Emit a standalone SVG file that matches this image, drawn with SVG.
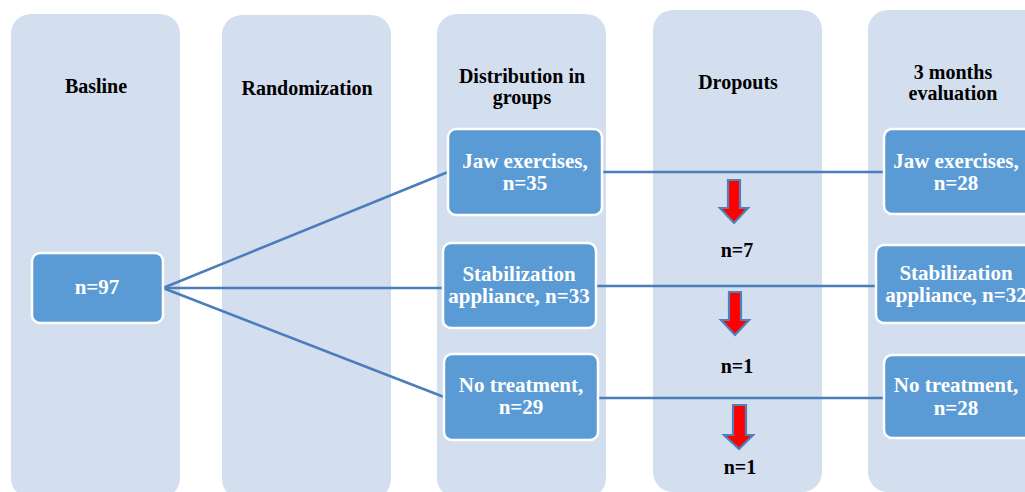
<svg xmlns="http://www.w3.org/2000/svg" width="1025" height="492" viewBox="0 0 1025 492">
<defs>
<style>
.col{fill:#D3DEEF;}
.node{fill:#5B9BD5;stroke:#FFFFFF;stroke-width:2.5;}
.hd{font-family:"Liberation Serif","Times New Roman",serif;font-weight:bold;font-size:20px;fill:#000;text-anchor:middle;}
.wt{font-family:"Liberation Serif","Times New Roman",serif;font-weight:bold;font-size:21px;fill:#FFF;text-anchor:middle;}
.ln{stroke:#4A7EBB;stroke-width:2.5;fill:none;}
.arr{fill:#FF0000;stroke:#4F81BD;stroke-width:2.2;stroke-linejoin:miter;}
</style>
</defs>
<rect width="1025" height="492" fill="#FFFFFF"/>
<g id="columns">
<rect class="col" x="11" y="14" width="169" height="484" rx="20"/>
<rect class="col" x="222" y="15" width="169" height="484" rx="20"/>
<rect class="col" x="437" y="14" width="169" height="484" rx="20"/>
<rect class="col" x="653" y="10" width="169" height="482" rx="20"/>
<rect class="col" x="868" y="10" width="180" height="482" rx="20"/>
</g>
<g id="headers">
<text class="hd" x="96" y="93">Basline</text>
<text class="hd" x="307" y="95">Randomization</text>
<text class="hd" x="522" y="83">Distribution in</text>
<text class="hd" x="522" y="104">groups</text>
<text class="hd" x="738" y="89">Dropouts</text>
<text class="hd" x="953" y="79">3 months</text>
<text class="hd" x="953" y="100">evaluation</text>
</g>
<g id="connectors">
<line class="ln" x1="163" y1="288" x2="448" y2="172"/>
<line class="ln" x1="163" y1="288" x2="443" y2="288"/>
<line class="ln" x1="163" y1="288" x2="444" y2="397"/>
<line class="ln" x1="602" y1="172" x2="884" y2="172"/>
<line class="ln" x1="596" y1="286" x2="876" y2="286"/>
<line class="ln" x1="598" y1="398" x2="884" y2="398"/>
</g>
<g id="node-baseline">
<rect class="node" x="32" y="253" width="131" height="70" rx="8"/>
<text class="wt" x="97" y="294">n=97</text>
</g>
<g id="node-jaw35">
<rect class="node" x="448" y="129" width="154" height="86" rx="8"/>
<text class="wt" x="525" y="168">Jaw exercises,</text>
<text class="wt" x="525" y="190">n=35</text>
</g>
<g id="node-stab33">
<rect class="node" x="443" y="243" width="153" height="85" rx="8"/>
<text class="wt" x="519" y="281">Stabilization</text>
<text class="wt" x="519" y="303">appliance, n=33</text>
</g>
<g id="node-no29">
<rect class="node" x="444" y="354" width="154" height="86" rx="8"/>
<text class="wt" x="521" y="392">No treatment,</text>
<text class="wt" x="521" y="414">n=29</text>
</g>
<g id="node-jaw28">
<rect class="node" x="884" y="129" width="150" height="85" rx="8"/>
<text class="wt" x="956" y="168">Jaw exercises,</text>
<text class="wt" x="956" y="190">n=28</text>
</g>
<g id="node-stab32">
<rect class="node" x="876" y="245" width="170" height="78" rx="8"/>
<text class="wt" x="956" y="280">Stabilization</text>
<text class="wt" x="956" y="302">appliance, n=32</text>
</g>
<g id="node-no28">
<rect class="node" x="884" y="355" width="150" height="83" rx="8"/>
<text class="wt" x="956" y="392">No treatment,</text>
<text class="wt" x="956" y="415">n=28</text>
</g>
<g id="dropouts">
<path class="arr" d="M728,180 H740 V208 H748 L734,223 L720,208 H728 Z"/>
<path class="arr" d="M729,292 H741 V320 H749 L735,335 L721,320 H729 Z"/>
<path class="arr" d="M733,405 H746 V435 H753 L739,449 L724,435 H733 Z"/>
<text class="hd" x="737" y="257">n=7</text>
<text class="hd" x="737" y="373">n=1</text>
<text class="hd" x="740" y="474">n=1</text>
</g>
</svg>
